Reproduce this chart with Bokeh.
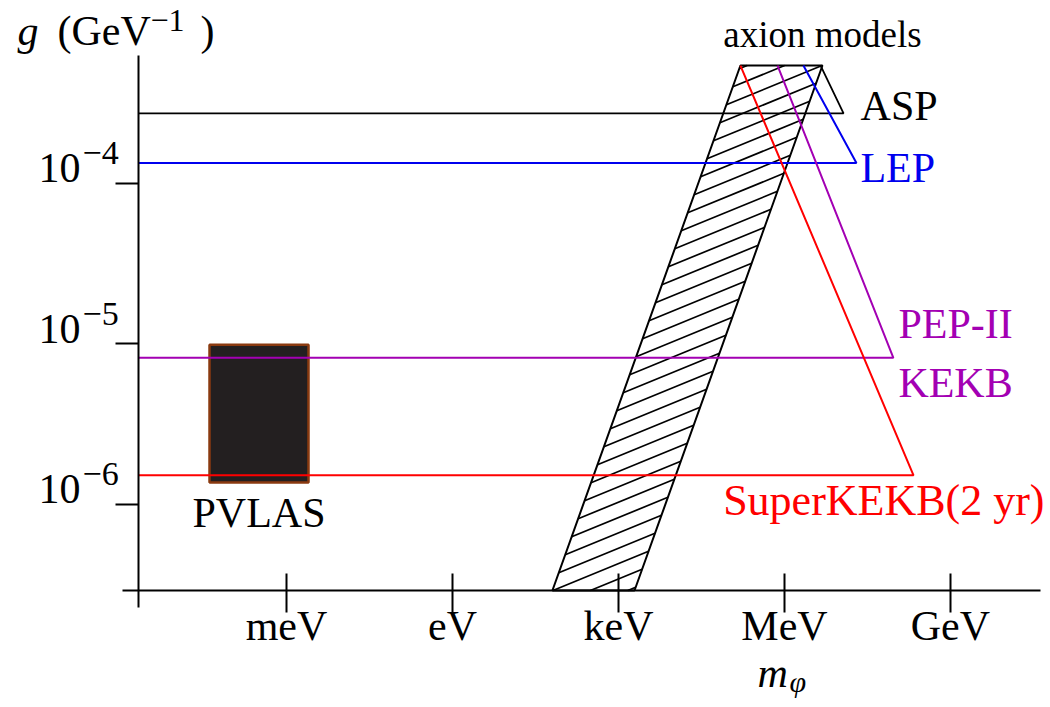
import numpy as np
from bokeh.plotting import figure
from bokeh.models import Range1d, FixedTicker, CustomJSTickFormatter
from bokeh.core.properties import value
from bokeh.embed import file_html
from bokeh.resources import INLINE

# ---------------- data ----------------
mass_tick_values = [1e-3, 1.0, 1e3, 1e6, 1e9]          # eV
mass_tick_labels = ["meV", "eV", "keV", "MeV", "GeV"]
g_tick_values = [1e-4, 1e-5, 1e-6]                     # GeV^-1
g_tick_exponents = ["\u22124", "\u22125", "\u22126"]

experiments = ["ASP", "LEP", "PEP-II", "SuperKEKB(2 yr)"]
exp_g_limit = [2.73e-4, 1.34e-4, 8.2e-6, 1.52e-6]
exp_m_corner = [1.17e7, 2.0e7, 9.3e7, 2.15e8]
exp_m_top = [4.5e6, 2.2e6, 7.5e5, 1.6e5]
exp_colors = ["#000000", "#0000ee", "#a300b3", "#ff0000"]

axion_m = [64.0, 1950.0, 4.86e6, 1.6e5]
axion_g = [2.91e-7, 2.91e-7, 5.43e-4, 5.43e-4]

pvlas_m = [4.06e-5, 2.5e-3]
pvlas_g = [1.37e-6, 9.9e-6]

# axis extents (where the drawn axes sit / end)
M_YAXIS = 2.11e-6
G_XAXIS = 2.91e-7
M_AXIS_BOUNDS = (1.09e-6, 4.24e10)
G_AXIS_BOUNDS = (2.28e-7, 6.27e-4)

FONT = value("Liberation Serif")

p = figure(width=1046, height=703, x_axis_type="log", y_axis_type="log",
           x_range=Range1d(10 ** -8.169, 10 ** 10.736),
           y_range=Range1d(10 ** -7.240, 10 ** -2.860),
           output_backend="svg", toolbar_location=None,
           min_border=0, min_border_left=0, min_border_right=0,
           min_border_top=0, min_border_bottom=0)
p.grid.visible = False
p.outline_line_color = None
p.background_fill_color = "white"

# ---- axes at fixed locations ----
xa = p.xaxis[0]
xa.fixed_location = G_XAXIS
xa.bounds = M_AXIS_BOUNDS
xa.ticker = FixedTicker(ticks=mass_tick_values)
xa.formatter = CustomJSTickFormatter(args=dict(labels=mass_tick_labels), code="return labels[index]")
xa.major_tick_in = 17
xa.major_tick_out = 22
xa.minor_tick_line_color = None
xa.axis_line_width = 2
xa.major_tick_line_width = 2
xa.major_label_text_font = "Liberation Serif"
xa.major_label_text_font_size = "42px"
xa.major_label_text_color = "black"
xa.major_label_standoff = -10

ya = p.yaxis[0]
ya.fixed_location = M_YAXIS
ya.bounds = G_AXIS_BOUNDS
ya.ticker = FixedTicker(ticks=g_tick_values)
ya.formatter = CustomJSTickFormatter(code="return ''")
ya.major_tick_in = 0
ya.major_tick_out = 23
ya.minor_tick_line_color = None
ya.axis_line_width = 2
ya.major_tick_line_width = 2

# ---- PVLAS box ----
p.quad(left=pvlas_m[0], right=pvlas_m[1], bottom=pvlas_g[0], top=pvlas_g[1],
       fill_color="#231f20", line_color="#8a3a10", line_width=2.5)
p.text(x=[np.sqrt(pvlas_m[0] * pvlas_m[1])], y=[pvlas_g[0]], text=["PVLAS"],
       text_font=FONT, text_font_size="42px", text_align="center",
       text_baseline="alphabetic", y_offset=30, text_color="black")

# ---- axion model band, hatched ----
u = np.log10(axion_m)
v = np.log10(axion_g)
PX_U, PX_V = 55.33, 160.5          # screen px per decade (for hatch angle/spacing)
k = 0.41 * PX_U / PX_V
e = (u[3] - u[0]) / (v[3] - v[0])
w = u[1] - u[0]
t = w / (1 - k * e)
rise = k * t
hx0, hy0, hx1, hy1 = [], [], [], []
for vs in np.arange(v[0] - rise + 0.02, v[3], 18.0 / PX_V):
    uL = u[0] + (vs - v[0]) * e
    smin = max(0.0, (v[0] - vs) / rise)
    smax = min(1.0, (v[3] - vs) / rise)
    if smin < smax:
        hx0.append(10 ** (uL + smin * t)); hy0.append(10 ** (vs + smin * rise))
        hx1.append(10 ** (uL + smax * t)); hy1.append(10 ** (vs + smax * rise))
p.segment(x0=hx0, y0=hy0, x1=hx1, y1=hy1, line_color="black", line_width=1.7)
p.patch(x=axion_m, y=axion_g, fill_color=None, line_color="black", line_width=2)
p.text(x=[axion_m[2]], y=[axion_g[2]], text=["axion models"], text_font=FONT,
       text_font_size="37px", text_align="center", text_baseline="alphabetic",
       y_offset=-31, text_color="black")

# ---- experiment sensitivity lines ----
for name, gl, mc, mt, col in zip(experiments, exp_g_limit, exp_m_corner, exp_m_top, exp_colors):
    p.line(x=[M_YAXIS, mc, mt], y=[gl, gl, axion_g[2]], line_color=col,
           line_width=2 if col != "#000000" else 1.8)

label_text = ["ASP", "LEP", "PEP-II", "KEKB", "SuperKEKB(2 yr)"]
label_of = [0, 1, 2, 2, 3]
label_dx = [17, 4, 5, 5, 131]
label_dy = [-7, 5, -34, 25, 25]
label_align = ["left", "left", "left", "left", "right"]
label_size = ["42px", "42px", "42px", "42px", "44px"]
for txt, i, dx, dy, al, fs in zip(label_text, label_of, label_dx, label_dy, label_align, label_size):
    p.text(x=[exp_m_corner[i]], y=[exp_g_limit[i]], text=[txt], text_font=FONT,
           text_font_size=fs, text_align=al, text_baseline="alphabetic",
           x_offset=dx, y_offset=dy, text_color=exp_colors[i])

# ---- y tick labels 10^n ----
p.text(x=[M_YAXIS] * 3, y=g_tick_values, text=["10"] * 3, text_font=FONT,
       text_font_size="42px", text_align="right", text_baseline="alphabetic",
       x_offset=-58, y_offset=-15, text_color="black")
p.text(x=[M_YAXIS] * 3, y=g_tick_values, text=g_tick_exponents, text_font=FONT,
       text_font_size="34px", text_align="left", text_baseline="alphabetic",
       x_offset=-56, y_offset=-30, text_color="black")

# ---- axis titles ----
p.text(x=[M_YAXIS], y=[G_AXIS_BOUNDS[1]], text=["g"], text_font=FONT,
       text_font_style="italic", text_font_size="42px", text_baseline="alphabetic",
       x_offset=-121, y_offset=-25, text_color="black")
p.text(x=[M_YAXIS], y=[G_AXIS_BOUNDS[1]], text=["(GeV"], text_font=FONT,
       text_font_size="42px", text_baseline="alphabetic",
       x_offset=-81, y_offset=-25, text_color="black")
p.text(x=[M_YAXIS], y=[G_AXIS_BOUNDS[1]], text=["\u22121"], text_font=FONT,
       text_font_size="32px", text_baseline="alphabetic",
       x_offset=12, y_offset=-35, text_color="black")
p.text(x=[M_YAXIS], y=[G_AXIS_BOUNDS[1]], text=[")"], text_font=FONT,
       text_font_size="42px", text_baseline="alphabetic",
       x_offset=62, y_offset=-25, text_color="black")

p.text(x=[mass_tick_values[3]], y=[G_XAXIS], text=["m"], text_font=FONT,
       text_font_style="italic", text_font_size="42px", text_baseline="alphabetic",
       x_offset=-27, y_offset=82, text_color="black")
p.text(x=[mass_tick_values[3]], y=[G_XAXIS], text=["\u03c6"], text_font=FONT,
       text_font_style="italic", text_font_size="30px", text_baseline="alphabetic",
       x_offset=5, y_offset=91, text_color="black")

open("out.html", "w").write(file_html(p, INLINE))
